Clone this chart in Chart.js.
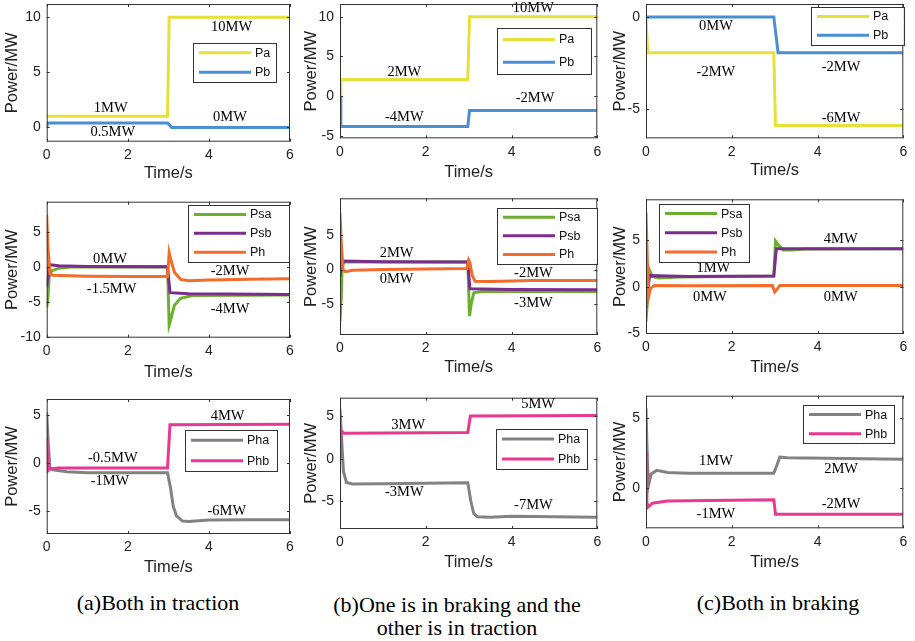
<!DOCTYPE html>
<html>
<head>
<meta charset="utf-8">
<script src="https://cdn.jsdelivr.net/npm/chart.js@4.4.1/dist/chart.umd.min.js"></script>
<style>
  body { margin: 0; background: #fff; width: 915px; height: 641px; position: relative; overflow: hidden; }
  canvas { position: absolute; }
  .cap { position: absolute; font: 22px "Liberation Serif", "Times New Roman", serif; color: #000;
         text-align: center; transform: translateX(-50%); white-space: nowrap; line-height: 23px; }
</style>
</head>
<body>
<div class="cap" style="left:158px;top:591px">(a)Both in traction</div>
<div class="cap" style="left:457px;top:593px">(b)One is in braking and the<br>other is in traction</div>
<div class="cap" style="left:778px;top:591px">(c)Both in braking</div>
<script>
// [time s, power MW]
const a1Pa = [[0, 1], [2.98, 1], [3.02, 10], [6, 10]];
const a1Pb = [[0, 0], [0.02, 0.4], [2.98, 0.4], [3.08, 0], [6, 0]];
const b1Pa = [[0, 0], [0.02, 2.1], [2.98, 2.1], [3.02, 10], [6, 10]];
const b1Pb = [[0, 0], [0.02, -3.8], [2.98, -3.8], [3.02, -1.8], [6, -1.8]];
const c1Pa = [[0, 0], [0.04, -1.95], [2.98, -1.95], [3.02, -5.9], [6, -5.9]];
const c1Pb = [[0, 0], [2.98, 0], [3.08, -1.95], [6, -1.95]];

const a2Psa = [[0, -5.8], [0.03, -4.5], [0.06, -1.5], [0.12, -0.6], [0.3, -0.2], [0.6, -0.05], [2.98, 0],
               [3.02, -8.3], [3.06, -7.5], [3.15, -5.5], [3.3, -4.5], [3.6, -4.1], [6, -4.05]];
const a2Psb = [[0, -2.9], [0.04, -1], [0.06, 0.3], [0.3, 0.15], [1, 0.05], [2.98, 0],
               [3.04, -3.7], [3.5, -3.85], [4.5, -3.9], [6, -3.95]];
const a2Ph  = [[0, 7.4], [0.03, 3], [0.08, -1.0], [0.15, -1.2], [1, -1.35], [2, -1.4], [2.98, -1.4],
               [3.02, 2.0], [3.06, 1.0], [3.15, -0.8], [3.3, -1.8], [3.5, -2.0], [4, -1.9], [5, -1.8], [6, -1.7]];
const b2Psa = [[0, -7.6], [0.03, -4], [0.05, 0.5], [0.1, 1.1], [2.98, 1.1],
               [3.02, -6.8], [3.06, -5], [3.12, -3.4], [3.3, -3.2], [6, -3.2]];
const b2Psb = [[0, -1], [0.04, 1.25], [1, 1.15], [2.98, 1.1], [3.03, -2.8], [4, -2.9], [6, -2.95]];
const b2Ph  = [[0, 8.3], [0.03, 4], [0.07, 0], [0.12, -0.3], [0.3, -0.1], [1, 0], [2, 0.1], [2.96, 0.15],
               [3.0, 1.4], [3.03, 1.0], [3.08, -0.8], [3.15, -1.7], [3.5, -1.75], [4.5, -1.6], [6, -1.6]];
const c2Psa = [[0, -3.75], [0.04, -1], [0.08, 1.8], [0.15, 1.1], [0.3, 0.95], [0.8, 1.05], [2.98, 1.15],
               [3.02, 4.9], [3.08, 4.5], [3.2, 3.95], [3.4, 3.95], [3.7, 4.05], [6, 4.1]];
const c2Psb = [[0, -2.3], [0.04, -0.5], [0.08, 1.2], [1, 1.1], [2.98, 1.15], [3.04, 4.1], [6, 4.1]];
const c2Ph  = [[0, 8], [0.03, 3], [0.06, -1.05], [0.1, -0.2], [0.2, 0.15], [1, 0.1], [2.95, 0.15],
               [3.0, -0.55], [3.05, -0.3], [3.12, 0.15], [6, 0.15]];

const a3Pha = [[0, 5.3], [0.04, 2], [0.08, -0.5], [0.15, -0.7], [0.5, -0.9], [1, -1.0], [2.98, -1.0],
               [3.05, -2.5], [3.12, -4.5], [3.2, -5.5], [3.35, -6.05], [3.5, -6.1], [4, -5.95], [5, -5.9], [6, -5.9]];
const a3Phb = [[0, 2.7], [0.03, -0.8], [0.08, -0.6], [0.3, -0.5], [2.98, -0.5], [3.04, 4.0], [6, 4.05]];
const b3Pha = [[0, 5.9], [0.03, 3], [0.08, -1.5], [0.15, -2.8], [0.3, -3.0], [1, -2.95], [2.98, -2.85],
               [3.05, -5], [3.12, -6.5], [3.2, -6.85], [3.5, -6.9], [4, -6.8], [6, -6.9]];
const b3Phb = [[0, 0.1], [0.03, 3.3], [0.1, 3.0], [2.98, 3.1], [3.04, 5.05], [6, 5.1]];
const c3Pha = [[0, 5.7], [0.03, 2], [0.06, 0.2], [0.12, 1.0], [0.25, 1.25], [0.5, 1.1], [1, 1.05], [2.98, 1.05],
               [3.05, 1.6], [3.12, 2.2], [3.3, 2.15], [6, 2.05]];
const c3Phb = [[0, 2.6], [0.02, -1.0], [0.04, -1.4], [0.15, -1.1], [0.5, -0.95], [2.98, -0.85], [3.02, -1.9], [6, -1.9]];

// y tick labels shown on each panel
const a1Ticks = [0, 5, 10], b1Ticks = [-5, 0, 5, 10], c1Ticks = [-5, 0];
const a2Ticks = [-10, -5, 0, 5], b2Ticks = [-5, 0, 5], c2Ticks = [-5, 0, 5];
const a3Ticks = [-5, 0, 5], b3Ticks = [-5, 0, 5], c3Ticks = [0, 5];
const timeTicks = [0, 2, 4, 6];

// text labels: [text, time, power]
const a1Notes = [['10MW', 4.56, 9.1], ['1MW', 1.58, 1.73], ['0.5MW', 1.63, -0.4], ['0MW', 4.52, 0.96]];
const b1Notes = [['10MW', 4.51, 11.06], ['2MW', 1.5, 3.06], ['-4MW', 1.5, -2.6], ['-2MW', 4.55, -0.3]];
const c1Notes = [['0MW', 1.63, -0.51], ['-2MW', 1.63, -3.0], ['-2MW', 4.55, -2.73], ['-6MW', 4.55, -5.5]];
const a2Notes = [['0MW', 1.56, 1.1], ['-1.5MW', 1.6, -3.19], ['-2MW', 4.52, -0.57], ['-4MW', 4.52, -6.05]];
const b2Notes = [['2MW', 1.32, 2.43], ['0MW', 1.32, -1.46], ['-2MW', 4.51, -0.59], ['-3MW', 4.51, -4.89]];
const c2Notes = [['4MW', 4.54, 5.08], ['1MW', 1.57, 1.97], ['0MW', 1.49, -1.14], ['0MW', 4.54, -1.14]];
const a3Notes = [['4MW', 4.46, 4.94], ['-0.5MW', 1.63, 0.52], ['-1MW', 1.56, -1.85], ['-6MW', 4.44, -4.98]];
const b3Notes = [['5MW', 4.62, 6.49], ['3MW', 1.59, 3.93], ['-3MW', 1.5, -3.94], ['-7MW', 4.51, -5.51]];
const c3Notes = [['1MW', 1.63, 1.9], ['2MW', 4.55, 1.31], ['-1MW', 1.63, -1.9], ['-2MW', 4.55, -1.19]];

const SANS  = '"Liberation Sans", Arial, sans-serif';
const SERIF = '"Liberation Serif", "Times New Roman", serif';
const COL = { pa: '#E6E03A', pb: '#4A8FD2', psa: '#6CAF2E', psb: '#7B2D8E', ph: '#F36C2C', pha: '#828282', phb: '#E8388F' };

// box = [left, right, top, bottom] of the axes, legend = [x, y, w, h] inside the axes
const panels = [
  { left: 0,   top: 0,   w: 300, h: 185, box: [46.7, 290, 4, 141.7],    y: [-1.3, 11.2], yt: a1Ticks, ytp: 2.7, xtp: 1.5,
    series: [['Pa', a1Pa, COL.pa], ['Pb', a1Pb, COL.pb]], legend: [146, 38.7, 83.3, 39], notes: a1Notes },
  { left: 300, top: 0,   w: 305, h: 185, box: [340, 597.3, 4, 138.3],   y: [-5.3, 11.6], yt: b1Ticks, ytp: 2,   xtp: 3,
    series: [['Pa', b1Pa, COL.pa], ['Pb', b1Pb, COL.pb]], legend: [156.7, 24.3, 94.3, 45.7], notes: b1Notes },
  { left: 607, top: 0,   w: 308, h: 185, box: [646, 903.3, 4, 138.3],   y: [-6.6, 0.7],  yt: c1Ticks, ytp: 4,   xtp: 4.5,
    series: [['Pa', c1Pa, COL.pa], ['Pb', c1Pb, COL.pb]], legend: [164.7, 3.3, 92.6, 37.7], notes: c1Notes },
  { left: 0,   top: 190, w: 300, h: 195, box: [46.7, 290, 201.7, 337.7], y: [-10.14, 9.3], yt: a2Ticks, ytp: 2.7, xtp: 3,
    series: [['Psa', a2Psa, COL.psa], ['Psb', a2Psb, COL.psb], ['Ph', a2Ph, COL.ph]], legend: [141.6, 3.3, 101, 56.7], notes: a2Notes },
  { left: 300, top: 190, w: 305, h: 195, box: [340, 597.3, 198.3, 335],  y: [-9.55, 10.4], yt: b2Ticks, ytp: 2,  xtp: 8,
    series: [['Psa', b2Psa, COL.psa], ['Psb', b2Psb, COL.psb], ['Ph', b2Ph, COL.ph]], legend: [156.7, 10, 100, 55.7], notes: b2Notes },
  { left: 607, top: 190, w: 308, h: 195, box: [646, 903.3, 199.3, 334],  y: [-5.07, 9.4], yt: c2Ticks, ytp: 4,   xtp: 8,
    series: [['Psa', c2Psa, COL.psa], ['Psb', c2Psb, COL.psb], ['Ph', c2Ph, COL.ph]], legend: [13.3, 4.7, 90, 57.7], notes: c2Notes },
  { left: 0,   top: 390, w: 300, h: 195, box: [46.7, 290, 399, 534],     y: [-7.4, 6.7],  yt: a3Ticks, ytp: 2.7, xtp: 8,
    series: [['Pha', a3Pha, COL.pha], ['Phb', a3Phb, COL.phb]], legend: [138.3, 31, 91.7, 41], notes: a3Notes },
  { left: 300, top: 390, w: 305, h: 195, box: [340, 597.3, 397.7, 529],  y: [-8.3, 7.2],  yt: b3Ticks, ytp: 2,   xtp: 13,
    series: [['Pha', b3Pha, COL.pha], ['Phb', b3Phb, COL.phb]], legend: [155.7, 31.6, 91, 40], notes: b3Notes },
  { left: 607, top: 390, w: 308, h: 195, box: [646, 903.3, 395.7, 528.3], y: [-2.9, 6.6], yt: c3Ticks, ytp: 4,   xtp: 13,
    series: [['Pha', c3Pha, COL.pha], ['Phb', c3Phb, COL.phb]], legend: [156.7, 9.3, 90.6, 38.3], notes: c3Notes },
];

// MATLAB-style box with inward ticks, boxed legend and the MW labels
const framePlugin = {
  id: 'frame',
  afterDatasetsDraw(chart, args, opts) {
    const { ctx, chartArea: a, scales: { x, y } } = chart;
    ctx.save();
    ctx.fillStyle = '#000';
    ctx.font = '14.5px ' + SERIF;
    ctx.textAlign = 'center';
    ctx.textBaseline = 'middle';
    opts.notes.forEach(([txt, t, v]) => ctx.fillText(txt, x.getPixelForValue(t), y.getPixelForValue(v)));

    ctx.strokeStyle = '#333';
    ctx.lineWidth = 1;
    ctx.strokeRect(a.left + 0.5, a.top + 0.5, a.width - 1, a.height - 1);
    ctx.beginPath();
    x.ticks.forEach(tk => {
      const px = Math.round(x.getPixelForValue(tk.value)) + 0.5;
      ctx.moveTo(px, a.bottom); ctx.lineTo(px, a.bottom - 3);
      ctx.moveTo(px, a.top);    ctx.lineTo(px, a.top + 3);
    });
    y.ticks.forEach(tk => {
      const py = Math.round(y.getPixelForValue(tk.value)) + 0.5;
      ctx.moveTo(a.left, py);  ctx.lineTo(a.left + 3, py);
      ctx.moveTo(a.right, py); ctx.lineTo(a.right - 3, py);
    });
    ctx.stroke();

    const [lx, ly, lw, lh] = opts.legend;
    const x0 = Math.round(a.left + lx), y0 = Math.round(a.top + ly);
    const ds = chart.data.datasets;
    ctx.fillStyle = '#fff';
    ctx.fillRect(x0, y0, lw, lh);
    ctx.strokeStyle = '#333';
    ctx.strokeRect(x0 + 0.5, y0 + 0.5, Math.round(lw), Math.round(lh));
    ctx.font = '12.5px ' + SANS;
    ctx.textAlign = 'left';
    ds.forEach((d, i) => {
      const yy = y0 + lh * (i + 0.5) / ds.length;
      ctx.strokeStyle = d.borderColor;
      ctx.lineWidth = 3;
      ctx.beginPath(); ctx.moveTo(x0 + 6, yy); ctx.lineTo(x0 + 58, yy); ctx.stroke();
      ctx.fillStyle = '#111';
      ctx.fillText(d.label, x0 + 62, yy + 0.5);
    });
    ctx.restore();
  }
};

function build(p) {
  const cv = document.createElement('canvas');
  cv.width = p.w; cv.height = p.h;
  cv.style.left = p.left + 'px'; cv.style.top = p.top + 'px';
  document.body.appendChild(cv);
  const [L, R, T, B] = p.box;
  const n = p.series.length;
  const tickFont = { family: SANS, size: 14 };
  const titleFont = { family: SANS, size: 16.5 };
  new Chart(cv, {
    type: 'line',
    data: {
      datasets: p.series.map(([label, pts, color], i) => ({
        label, data: pts.map(([t, v]) => ({ x: t, y: v })),
        borderColor: color, borderWidth: 3, pointRadius: 0, tension: 0, order: n - 1 - i,
      })),
    },
    options: {
      responsive: false, animation: false, devicePixelRatio: 1,
      layout: { padding: { left: 0, top: T - p.top, right: p.left + p.w - R, bottom: 0 } },
      plugins: { legend: { display: false }, tooltip: { enabled: false }, frame: { legend: p.legend, notes: p.notes } },
      scales: {
        x: {
          type: 'linear', min: 0, max: 6,
          ticks: { padding: 5, color: '#222', font: tickFont, maxRotation: 0 },
          afterBuildTicks: s => { s.ticks = timeTicks.map(v => ({ value: v })); },
          grid: { display: false, drawTicks: false }, border: { display: false },
          title: { display: true, text: 'Time/s', color: '#222', font: titleFont, padding: { top: 0, bottom: p.xtp } },
          afterFit: s => { s.height = p.top + p.h - B; s.paddingLeft = 0; s.paddingRight = 0; },
        },
        y: {
          type: 'linear', min: p.y[0], max: p.y[1],
          ticks: { padding: 6, color: '#222', font: tickFont },
          afterBuildTicks: s => { s.ticks = p.yt.map(v => ({ value: v })); },
          grid: { display: false, drawTicks: false }, border: { display: false },
          title: { display: true, text: 'Power/MW', color: '#222', font: titleFont, padding: { top: p.ytp, bottom: 0 } },
          afterFit: s => { s.width = L - p.left; s.paddingTop = 0; s.paddingBottom = 0; },
        },
      },
    },
    plugins: [framePlugin],
  });
}

panels.forEach(build);
</script>
</body>
</html>
